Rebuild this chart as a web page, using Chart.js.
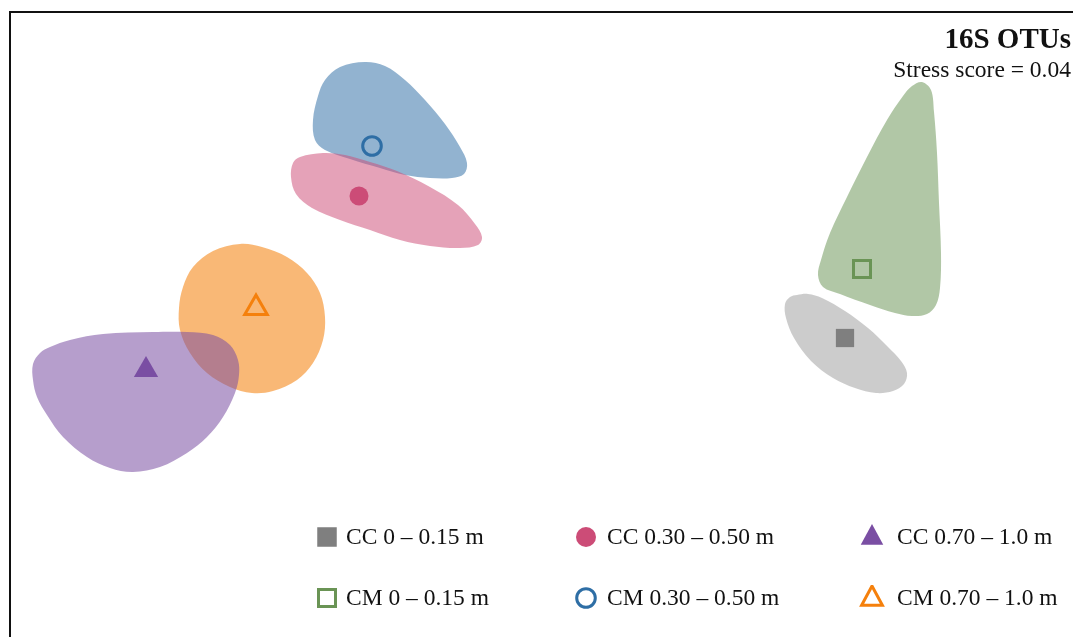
<!DOCTYPE html>
<html>
<head>
<meta charset="utf-8">
<title>16S OTUs NMDS</title>
<script src="https://cdn.jsdelivr.net/npm/chart.js@4/dist/chart.umd.min.js"></script>
<style>
  html, body { margin: 0; padding: 0; background: #fff; overflow: hidden; }
  #wrap { position: relative; width: 1073px; height: 637px; overflow: hidden; }
  #frame { position: absolute; left: 9px; top: 11px; width: 2000px; height: 2000px;
           border-top: 2px solid #111; border-left: 2px solid #111; }
  #nmds { position: absolute; left: 0; top: 0; }
  .txt { position: absolute; font-family: "Liberation Serif", "Times New Roman", serif;
         color: #111; line-height: 1; white-space: nowrap; }
  #title { right: 2px; top: 24px; font-size: 29px; font-weight: bold; }
  #stress { right: 2px; top: 58px; font-size: 23.5px; }
  .lg { position: absolute; font-size: 23.5px; }
  .mk { position: absolute; }
</style>
</head>
<body>
<div id="wrap">
  <div id="frame"></div>
  <canvas id="nmds" width="1073" height="637"></canvas>
  <div id="title" class="txt">16S OTUs</div>
  <div id="stress" class="txt">Stress score = 0.04</div>
  <div id="legend"></div>
</div>
<script>
// Treatment / depth groups
const groupLabels = ['CC 0 – 0.15 m', 'CC 0.30 – 0.50 m', 'CC 0.70 – 1.0 m',
                     'CM 0 – 0.15 m', 'CM 0.30 – 0.50 m', 'CM 0.70 – 1.0 m'];

// Group centroids (NMDS1, NMDS2)
const centroidX = [0.61, -0.362, -0.788, 0.644, -0.336, -0.568];
const centroidY = [-0.016, 0.268, -0.08, 0.122, 0.368, 0.044];

// Smoothed hull outlines around each group's samples (NMDS1, NMDS2)
const hullCC0 = [[0.514,0.07],[0.536,0.072],[0.564,0.064],[0.61,0.038],[0.656,0.004],[0.696,-0.034],
                 [0.722,-0.062],[0.734,-0.086],[0.728,-0.108],[0.706,-0.122],[0.672,-0.126],[0.63,-0.116],
                 [0.586,-0.096],[0.542,-0.062],[0.508,-0.016],[0.492,0.024],[0.49,0.052],[0.5,0.066]];
const hullCC30 = [[-0.48,0.346],[-0.434,0.354],[-0.39,0.35],[-0.34,0.336],[-0.286,0.318],[-0.22,0.286],
                  [-0.164,0.25],[-0.13,0.212],[-0.116,0.186],[-0.124,0.17],[-0.16,0.164],[-0.22,0.168],
                  [-0.28,0.18],[-0.34,0.2],[-0.4,0.22],[-0.456,0.244],[-0.488,0.272],[-0.498,0.306],
                  [-0.494,0.334]];
const hullCC70 = [[-0.98,-0.034],[-0.94,-0.02],[-0.874,-0.008],[-0.774,-0.004],[-0.706,-0.004],
                  [-0.654,-0.01],[-0.62,-0.03],[-0.604,-0.06],[-0.602,-0.09],[-0.61,-0.126],
                  [-0.634,-0.174],[-0.666,-0.214],[-0.706,-0.246],[-0.76,-0.274],[-0.814,-0.284],
                  [-0.86,-0.276],[-0.906,-0.254],[-0.954,-0.214],[-0.986,-0.17],[-1.006,-0.134],
                  [-1.014,-0.1],[-1.014,-0.068],[-1.0,-0.046]];
const hullCM0 = [[0.764,0.496],[0.782,0.48],[0.788,0.436],[0.794,0.354],[0.798,0.254],[0.802,0.154],
                 [0.8,0.084],[0.792,0.05],[0.774,0.032],[0.744,0.028],[0.71,0.034],[0.66,0.05],
                 [0.6,0.072],[0.566,0.086],[0.556,0.11],[0.562,0.14],[0.58,0.194],[0.614,0.266],
                 [0.654,0.346],[0.694,0.42],[0.726,0.468],[0.744,0.488]];
const hullCM30 = [[-0.35,0.536],[-0.31,0.528],[-0.27,0.5],[-0.23,0.46],[-0.19,0.412],[-0.16,0.366],
                  [-0.146,0.334],[-0.152,0.312],[-0.176,0.304],[-0.22,0.304],[-0.27,0.31],[-0.32,0.324],
                  [-0.38,0.342],[-0.43,0.36],[-0.45,0.38],[-0.454,0.42],[-0.444,0.468],[-0.43,0.5],
                  [-0.4,0.526]];
const hullCM70 = [[-0.6,0.172],[-0.556,0.166],[-0.506,0.146],[-0.466,0.114],[-0.44,0.074],[-0.43,0.026],
                  [-0.434,-0.02],[-0.454,-0.066],[-0.486,-0.1],[-0.534,-0.122],[-0.576,-0.126],
                  [-0.62,-0.114],[-0.666,-0.086],[-0.7,-0.046],[-0.72,0],[-0.722,0.044],[-0.714,0.086],
                  [-0.694,0.126],[-0.654,0.158]];

// Styling per group
const markerColors = ['#7f7f7f', '#cc4c77', '#7a4ea3', '#6a9455', '#2e6ea5', '#f5800c'];
const hullColors = ['rgba(128,128,128,0.40)', 'rgba(205,76,119,0.52)', 'rgba(122,78,163,0.55)',
                    'rgba(106,148,84,0.52)', 'rgba(46,110,165,0.52)', 'rgba(245,128,10,0.56)'];
const markerStyles = ['rect', 'circle', 'triangle', 'rect', 'circle', 'triangle'];
const markerHollow = [false, false, false, true, true, true];
const markerRadius = [12.9, 9.5, 14, 12, 9.3, 13];

const hulls = [hullCC0, hullCC30, hullCC70, hullCM0, hullCM30, hullCM70];
// drawing order of hulls, back to front (higher 'order' is painted first)
const hullOrder = [3, 4, 1, 3, 4, 2];

const toPoints = arr => arr.map(([x, y]) => ({ x, y }));

const datasets = [];
hulls.forEach((h, i) => {
  datasets.push({
    type: 'line',
    label: groupLabels[i] + ' hull',
    data: toPoints(h),
    closedPath: true,
    backgroundColor: hullColors[i],
    borderWidth: 0,
    pointRadius: 0,
    pointHoverRadius: 0,
    tension: 0.35,
    capBezierPoints: false,
    fill: 'shape',
    order: 10 + hullOrder[i]
  });
});
groupLabels.forEach((lab, i) => {
  datasets.push({
    type: 'scatter',
    label: lab,
    data: [{ x: centroidX[i], y: centroidY[i] }],
    pointStyle: markerStyles[i],
    pointRadius: markerRadius[i],
    pointHoverRadius: markerRadius[i],
    backgroundColor: markerHollow[i] ? 'rgba(0,0,0,0)' : markerColors[i],
    borderColor: markerColors[i],
    borderWidth: markerHollow[i] ? 3 : 0,
    order: 0
  });
});

// Make hull outlines closed, smooth loops
const closedHulls = {
  id: 'closedHulls',
  afterDatasetsUpdate(chart) {
    chart.data.datasets.forEach((ds, i) => {
      if (!ds.closedPath) return;
      const line = chart.getDatasetMeta(i).dataset;
      if (!line) return;
      line._loop = true;
      line._fullLoop = true;
      line.points = line.points;
    });
  }
};

new Chart(document.getElementById('nmds'), {
  type: 'scatter',
  data: { datasets },
  options: {
    responsive: false,
    animation: false,
    events: [],
    layout: { padding: 0, autoPadding: false },
    scales: {
      x: { type: 'linear', display: false, min: -1.08, max: 1.066 },
      y: { type: 'linear', display: false, min: -0.614, max: 0.66 }
    },
    plugins: { legend: { display: false }, tooltip: { enabled: false }, title: { display: false } }
  },
  plugins: [closedHulls]
});

// Legend: 3 columns x 2 rows
const legendCols = [327, 585.5, 872];
const legendTextX = [346, 607, 897];
const legendRows = [537, 598];
const legend = document.getElementById('legend');
const svgNS = 'http://www.w3.org/2000/svg';
groupLabels.forEach((lab, i) => {
  const col = i % 3, row = Math.floor(i / 3);
  const cx = legendCols[col], cy = legendRows[row];
  const c = markerColors[i];
  const hollow = markerHollow[i];
  const size = 26;
  const svg = document.createElementNS(svgNS, 'svg');
  svg.setAttribute('width', size); svg.setAttribute('height', size);
  svg.setAttribute('class', 'mk');
  svg.style.left = (cx - size / 2) + 'px';
  svg.style.top = (cy - size / 2) + 'px';
  let shape;
  const m = size / 2;
  if (markerStyles[i] === 'rect') {
    shape = document.createElementNS(svgNS, 'rect');
    const s = hollow ? 17 : 19.5;
    shape.setAttribute('x', m - s / 2); shape.setAttribute('y', m - s / 2);
    shape.setAttribute('width', s); shape.setAttribute('height', s);
  } else if (markerStyles[i] === 'circle') {
    shape = document.createElementNS(svgNS, 'circle');
    shape.setAttribute('cx', m); shape.setAttribute('cy', m);
    shape.setAttribute('r', hollow ? 9.3 : 10);
  } else {
    shape = document.createElementNS(svgNS, 'polygon');
    const r = hollow ? 12 : 13;
    const pts = [[m, m - r], [m + r * 0.866, m + r * 0.6], [m - r * 0.866, m + r * 0.6]];
    shape.setAttribute('points', pts.map(p => p.join(',')).join(' '));
  }
  if (hollow) {
    shape.setAttribute('fill', 'none');
    shape.setAttribute('stroke', c);
    shape.setAttribute('stroke-width', 3);
  } else {
    shape.setAttribute('fill', c);
  }
  svg.appendChild(shape);
  legend.appendChild(svg);
  const t = document.createElement('div');
  t.className = 'txt lg';
  t.textContent = lab;
  t.style.left = legendTextX[col] + 'px';
  t.style.top = (cy - 12) + 'px';
  legend.appendChild(t);
});
</script>
</body>
</html>
